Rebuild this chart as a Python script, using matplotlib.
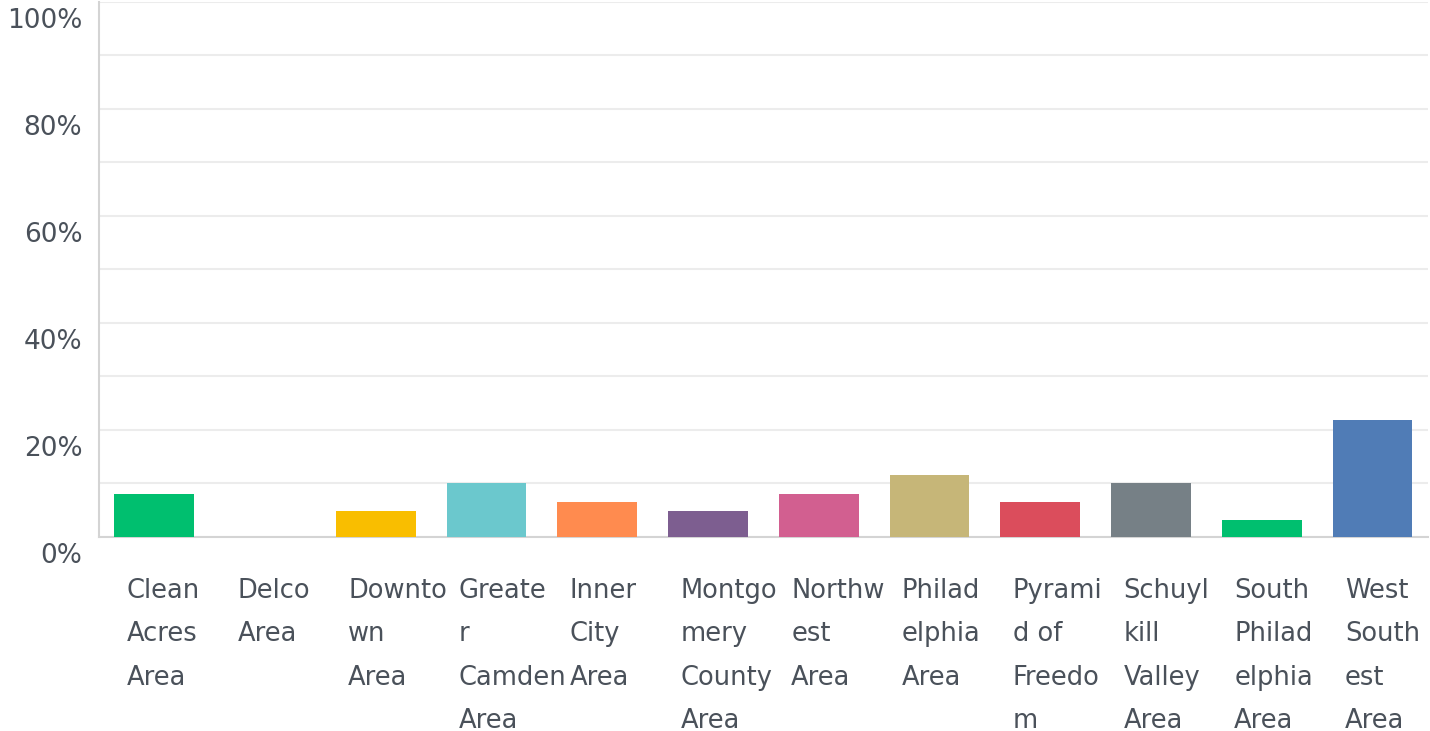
import matplotlib
matplotlib.use('Agg')
import matplotlib.pyplot as plt
import matplotlib.transforms as mtransforms

# categories (wrapped the same way as the original survey chart)
categories = ['Clean\nAcres\nArea', 'Delco\nArea', 'Downto\nwn\nArea', 'Greate\nr\nCamden\nArea',
              'Inner\nCity\nArea', 'Montgo\nmery\nCounty\nArea', 'Northw\nest\nArea',
              'Philad\nelphia\nArea', 'Pyrami\nd of\nFreedo\nm', 'Schuyl\nkill\nValley\nArea',
              'South\nPhilad\nelphia\nArea', 'West\nSouth\nest\nArea']
percent = [8.1, 0, 4.8, 10.1, 6.6, 4.8, 8.1, 11.6, 6.6, 10.1, 3.2, 21.9]
colors = ['#00BF6F', '#507CB6', '#F9BE00', '#6BC8CD', '#FF8B4F', '#7D5E90',
          '#D25F90', '#C6B678', '#DB4D5C', '#768086', '#00BF6F', '#507CB6']
yticks = [0, 20, 40, 60, 80, 100]
ytick_labels = ['0%', '20%', '40%', '60%', '80%', '100%']

text_color = '#4a515a'

fig = plt.figure(figsize=(14.3, 7.31), dpi=100)
ax = fig.add_axes([0.0692, 0.2654, 0.9294, 0.7319])

x = list(range(len(categories)))
ax.bar(x, percent, width=0.72, color=colors, zorder=3)

ax.set_xlim(-0.5, len(categories) - 0.5)
ax.set_ylim(0, 100)

ax.set_yticks(yticks)
ax.set_yticks([10, 30, 50, 70, 90], minor=True)
ax.set_yticklabels(ytick_labels, fontsize=19, color=text_color)
ax.tick_params(axis='y', which='both', length=0, pad=12)
ax.set_xticks([])
ax.grid(axis='y', which='both', color='#ececec', linewidth=1.5, zorder=0)

# shift y tick labels down a bit, as in the original
offset = mtransforms.ScaledTranslation(0, -0.16, fig.dpi_scale_trans)
for lab in ax.get_yticklabels():
    lab.set_transform(lab.get_transform() + offset)

for side in ['top', 'right']:
    ax.spines[side].set_visible(False)
ax.spines['left'].set_color('#d4d4d4')
ax.spines['bottom'].set_color('#d4d4d4')
ax.spines['left'].set_linewidth(1.5)
ax.spines['bottom'].set_linewidth(1.5)

# category labels, left aligned under each bar
trans = mtransforms.blended_transform_factory(ax.transData, ax.transAxes)
for i, name in enumerate(categories):
    ax.text(i - 0.25, -0.077, name, transform=trans, ha='left', va='top',
            fontsize=18.5, color=text_color, linespacing=1.86)

fig.savefig('out.png', dpi=100)
